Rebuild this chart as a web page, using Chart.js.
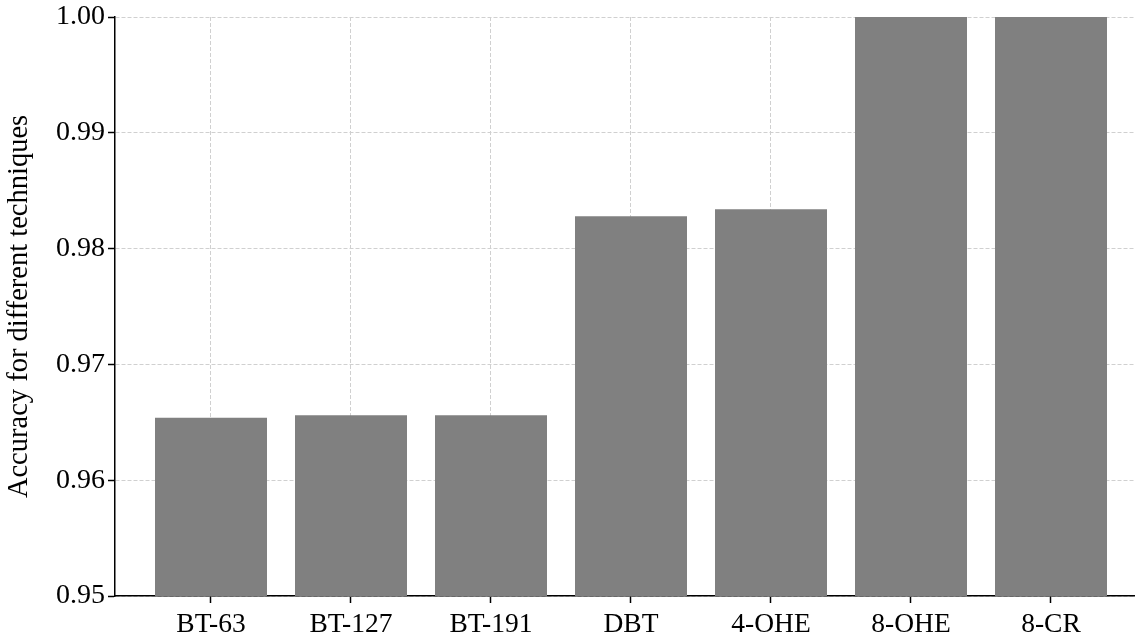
<!DOCTYPE html>
<html lang="en">
<head>
    <meta charset="UTF-8">
    <title>Accuracy for different techniques</title>
    <script src="https://cdn.jsdelivr.net/npm/chart.js"></script>
    <style>
        html, body { margin: 0; padding: 0; background: #fff; }
        #wrap { width: 1135px; height: 639px; }
    </style>
</head>
<body>
    <div id="wrap">
        <canvas id="accChart" width="1135" height="639"></canvas>
    </div>

    <script>
        // Data
        const techniques = ['BT-63', 'BT-127', 'BT-191', 'DBT', '4-OHE', '8-OHE', '8-CR'];
        const accuracy = [0.9654, 0.9656, 0.9656, 0.9828, 0.9834, 1.0, 1.0];
        const yTicks = [0.95, 0.96, 0.97, 0.98, 0.99, 1.00];

        const fontFamily = '"Liberation Serif", "DejaVu Serif", serif';
        const gridColor = '#d0d0d0';

        const points = techniques.map((t, i) => ({ x: i, y: accuracy[i] }));

        const ctx = document.getElementById('accChart').getContext('2d');
        new Chart(ctx, {
            type: 'bar',
            data: {
                datasets: [{
                    data: points,
                    backgroundColor: '#808080',
                    borderWidth: 0,
                    barPercentage: 0.8,
                    categoryPercentage: 1.0
                }]
            },
            options: {
                responsive: false,
                animation: false,
                layout: { padding: { top: 16, right: 0, left: 0, bottom: 0 } },
                plugins: {
                    legend: { display: false },
                    tooltip: { enabled: false }
                },
                scales: {
                    x: {
                        type: 'linear',
                        min: -0.6857,
                        max: 6.6,
                        offset: false,
                        afterBuildTicks: scale => {
                            scale.ticks = techniques.map((t, i) => ({ value: i }));
                        },
                        afterFit: scale => { scale.height = 43; },
                        ticks: {
                            callback: v => techniques[v],
                            color: '#000',
                            font: { family: fontFamily, size: 27.5 },
                            padding: 5,
                            maxRotation: 0,
                            autoSkip: false
                        },
                        grid: {
                            offset: false,
                            color: gridColor,
                            tickColor: '#000',
                            tickLength: 7,
                            tickWidth: 1.5
                        },
                        border: { display: true, color: '#000', width: 1.5, dash: [4, 2] }
                    },
                    y: {
                        min: 0.95,
                        max: 1.0,
                        afterBuildTicks: scale => {
                            scale.ticks = yTicks.map(v => ({ value: v }));
                        },
                        afterFit: scale => { scale.width = 115; },
                        ticks: {
                            callback: v => v.toFixed(2),
                            color: '#000',
                            font: { family: fontFamily, size: 28, lineHeight: 1 },
                            padding: 3
                        },
                        grid: {
                            color: gridColor,
                            tickColor: '#000',
                            tickLength: 7,
                            tickWidth: 1.5
                        },
                        border: { display: true, color: '#000', width: 1.5, dash: [4, 2] },
                        title: {
                            display: true,
                            text: 'Accuracy for different techniques',
                            color: '#000',
                            font: { family: fontFamily, size: 28.5 },
                            padding: { top: 2, bottom: 0 }
                        }
                    }
                }
            }
        });
    </script>
</body>
</html>
